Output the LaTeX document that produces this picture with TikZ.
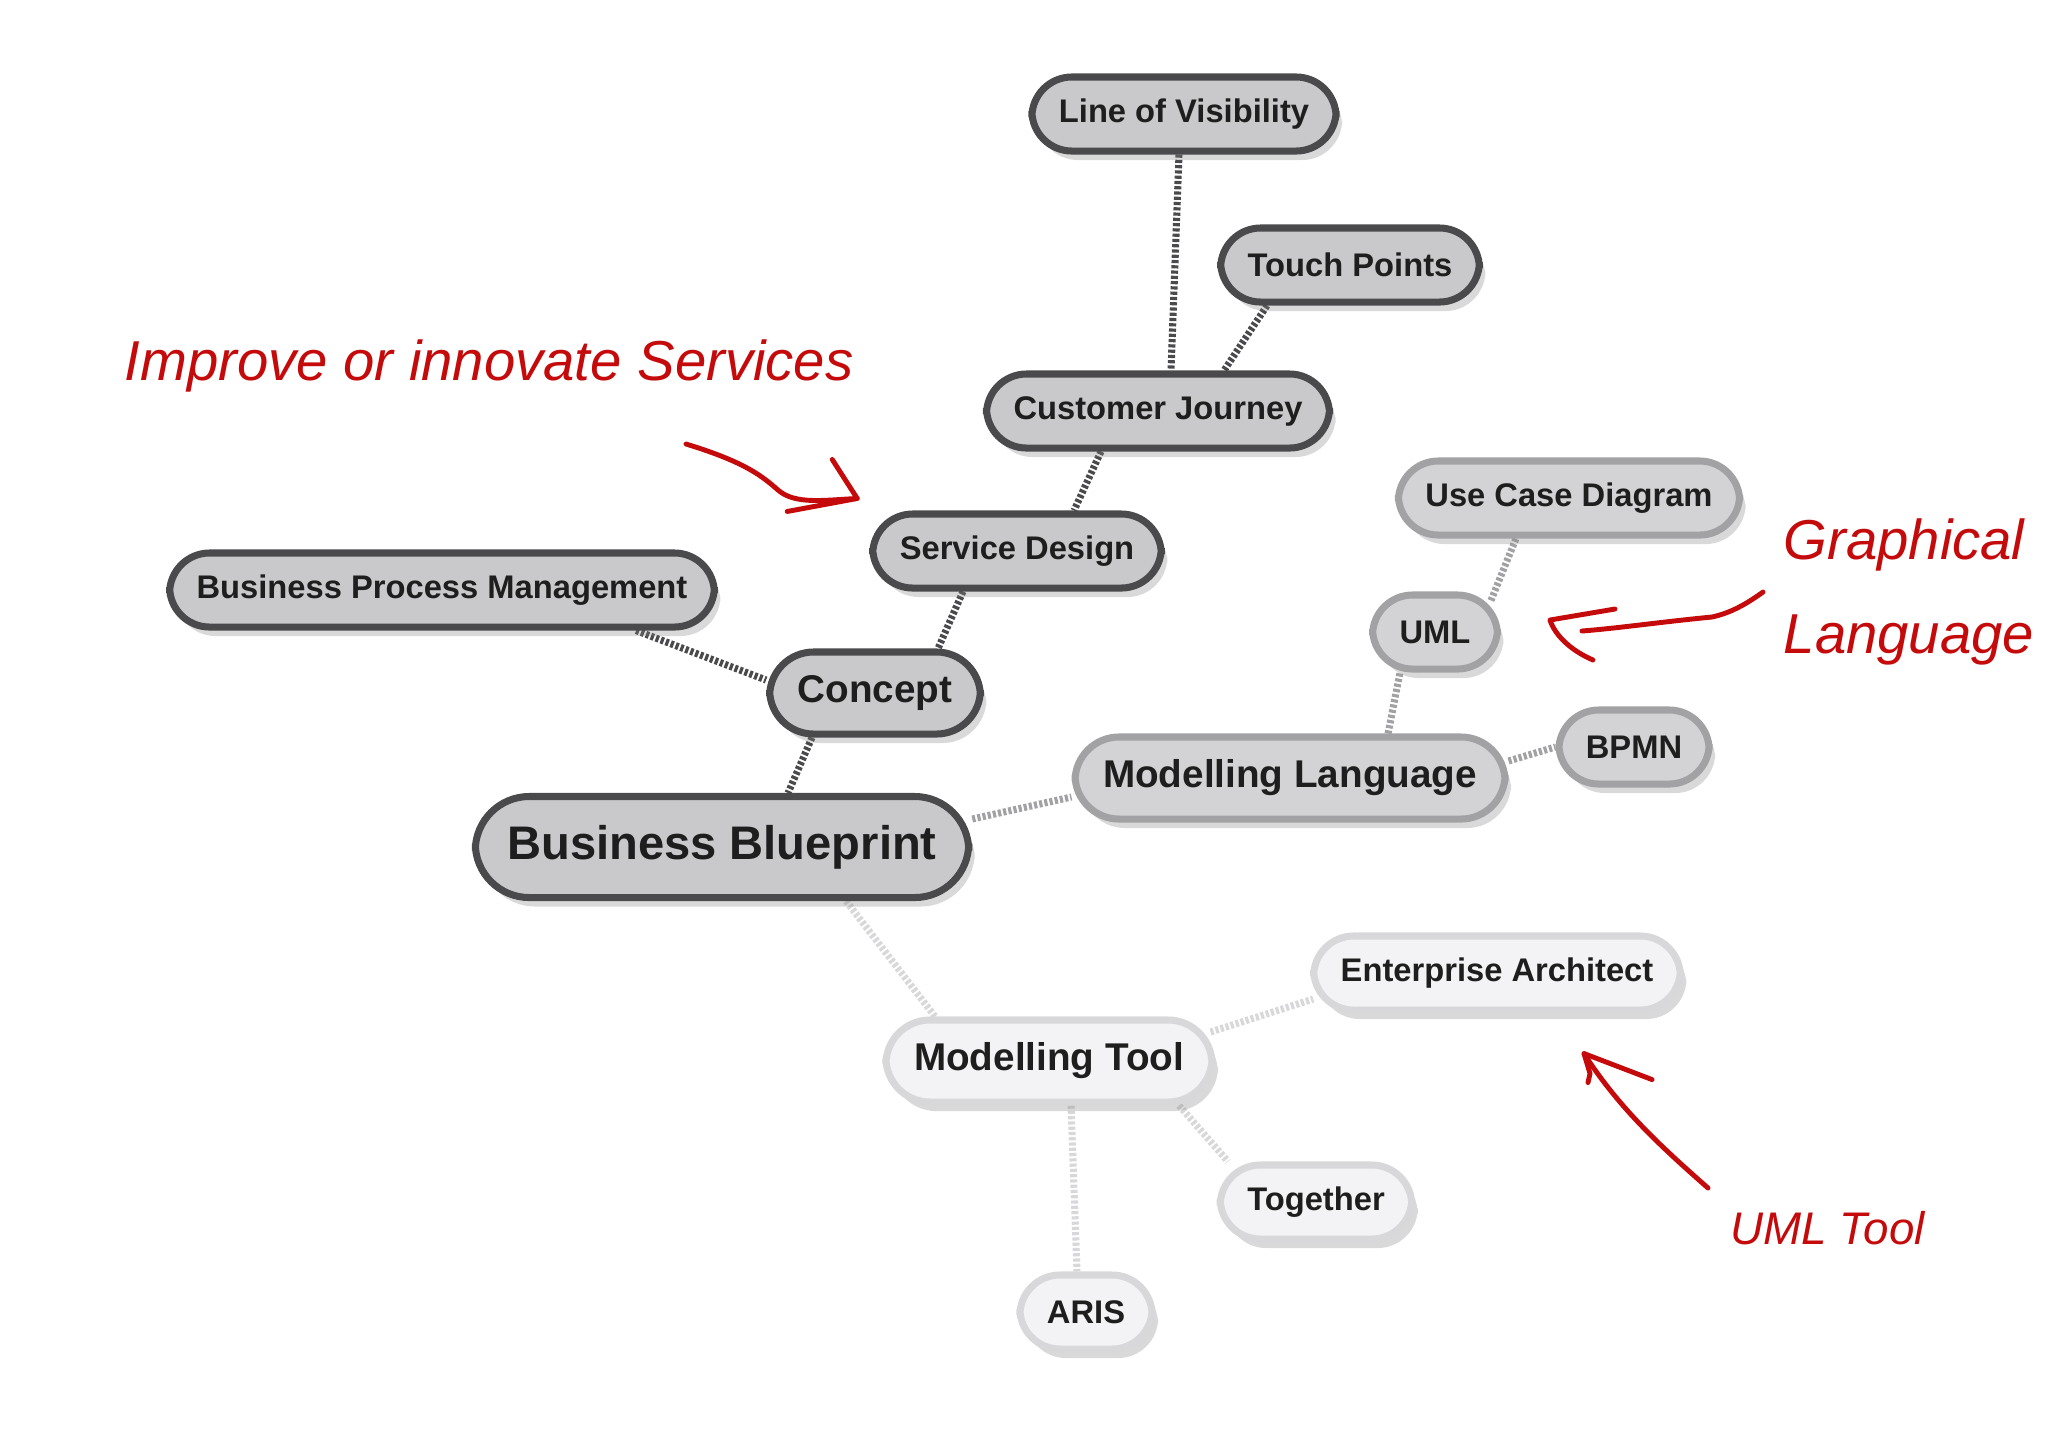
\documentclass[tikz,border=0pt]{standalone}
\usepackage{fontspec}
\setmainfont{Liberation Sans}
\newfontfamily\handfont{Liberation Sans}
\usepackage{tikz}
\usetikzlibrary{shadows,backgrounds}

\definecolor{dkline}{HTML}{4A4A4C}
\definecolor{dkfill}{HTML}{C9C9CB}
\definecolor{mdline}{HTML}{A2A2A4}
\definecolor{mdfill}{HTML}{D3D3D5}
\definecolor{ltline}{HTML}{D8D8DA}
\definecolor{ltfill}{HTML}{F3F3F5}
\definecolor{inkred}{HTML}{C40A0A}
\definecolor{txt}{HTML}{1E1E1E}

\tikzset{
  bub/.style={rectangle, rounded corners=4mm, line width=2pt, minimum height=7.4mm,
    inner xsep=2.7mm, inner ysep=0pt, text=txt, font=\bfseries\fontsize{9.3}{11}\selectfont,
    drop shadow={shadow xshift=0.6mm, shadow yshift=-0.9mm, opacity=0.3}},
  bubm/.style={bub, rounded corners=4.4mm, minimum height=8.2mm, inner xsep=2.8mm,
    font=\bfseries\fontsize{11}{13}\selectfont},
  bubl/.style={bub, rounded corners=5.4mm, minimum height=10.1mm, inner xsep=3.2mm,
    font=\bfseries\fontsize{13.4}{16}\selectfont},
  dk/.style={draw=dkline, fill=dkfill},
  md/.style={draw=mdline, fill=mdfill},
  lt/.style={draw=ltline, fill=ltfill},
  lnk/.style={line width=2pt, dash pattern=on 0.9pt off 0.6pt},
  ink/.style={draw=inkred, line width=1.4pt, line cap=round, line join=round},
  hand/.style={text=inkred, inner sep=0pt, font=\handfont\itshape\fontsize{16}{19}\selectfont}
}

\begin{document}
\begin{tikzpicture}[x=0.01cm, y=-0.01cm]
\useasboundingbox (0,0) rectangle (2048,1447);

% topics
\node[bubl, dk] (bb)   at (722,847)   {Business Blueprint};
\node[bubm, dk] (con)  at (875,693)   {Concept};
\node[bub, dk]  (bpm)  at (442,590)   {Business Process Management};
\node[bub, dk]  (sd)   at (1017,551)  {Service Design};
\node[bub, dk]  (cj)   at (1158,411)  {Customer Journey};
\node[bub, dk]  (tp)   at (1350,265)  {Touch Points};
\node[bub, dk]  (lov)  at (1184,114)  {Line of Visibility};

\node[bubm, md] (ml)   at (1290,778)  {Modelling Language};
\node[bub, md]  (uml)  at (1435,632)  {UML};
\node[bub, md]  (ucd)  at (1569,498)  {Use Case Diagram};
\node[bub, md]  (bpmn) at (1634,747)  {BPMN};

\node[bubm, lt] (mt)   at (1049,1061) {Modelling Tool};
\node[bub, lt]  (ea)   at (1497,973)  {Enterprise Architect};
\node[bub, lt]  (tog)  at (1316,1202) {Together};
\node[bub, lt]  (aris) at (1086,1312) {ARIS};

% links
\begin{scope}[on background layer]
\draw[lnk, dkline] ([xshift=-0.5mm]lov.south) -- ([xshift=1.3mm]cj.north);
\draw[lnk, dkline] ([xshift=-8.3mm]tp.south) -- ([xshift=6.6mm]cj.north);
\draw[lnk, dkline] ([xshift=-5.7mm]cj.south) -- ([xshift=5.7mm]sd.north);
\draw[lnk, dkline] ([xshift=-5.4mm]sd.south) -- ([xshift=6.3mm]con.north);
\draw[lnk, dkline] ([xshift=19.4mm]bpm.south) -- ([yshift=1.3mm]con.west);
\draw[lnk, dkline] ([xshift=-6.3mm]con.south) -- ([xshift=6.6mm]bb.north);
\draw[lnk, mdline] ([yshift=2.8mm]bb.east) -- ([yshift=-1.9mm]ml.west);
\draw[lnk, mdline] ([xshift=9.8mm]ml.north) -- ([xshift=-3.5mm]uml.south);
\draw[lnk, mdline] ([shift={(-10,9)}]uml.north east) -- ([xshift=-5.3mm]ucd.south);
\draw[lnk, mdline] ([yshift=1.7mm]ml.east) -- (bpmn.west);
\draw[lnk, ltline] ([xshift=12.4mm]bb.south) -- ([xshift=-11.4mm]mt.north);
\draw[lnk, ltline] ([shift={(-5,-29)}]mt.east) -- ([shift={(3,26)}]ea.west);
\draw[lnk, ltline] ([xshift=13mm]mt.south) -- ([xshift=-8.8mm]tog.north);
\draw[lnk, ltline] ([xshift=2.2mm]mt.south) -- ([xshift=-0.9mm]aris.north);
\end{scope}

% red notes
\node[hand] (imp) at (489,366) {Improve or innovate Services};
\coordinate (ta) at (686,444);
\coordinate (pa) at ([shift={(-12,-12)}]sd.north west);
\draw[ink] (ta) .. controls (745,462) and (762,476) .. (778,490)
  .. controls (795,505) and (825,500) .. (pa);
\draw[ink] ([shift={(-25,-39)}]pa) -- (pa) -- ([shift={(-70,13)}]pa);

\node[hand, anchor=west] (gra) at (1783,545) {Graphical};
\node[hand, anchor=west] (lan) at (1783,640) {Language};
\coordinate (tb) at (1763,592);
\coordinate (pb) at ([shift={(49,-12)}]uml.east);
\draw[ink] (tb) .. controls (1745,605) and (1730,613) .. (1712,617)
  .. controls (1660,622) and (1620,628) .. ([shift={(32,11)}]pb);
\draw[ink] ([shift={(65,-11)}]pb) -- (pb)
  .. controls ([shift={(5,15)}]pb) and ([shift={(20,30)}]pb) .. ([shift={(43,40)}]pb);

\node[hand, anchor=west, font=\handfont\itshape\fontsize{13}{16}\selectfont] (ut) at (1730,1228) {UML Tool};
\coordinate (tc) at (1708,1188);
\coordinate (pc) at ([shift={(87,40)}]ea.south);
\draw[ink] (tc) .. controls (1665,1150) and (1620,1110) .. (pc);
\draw[ink] ([shift={(68,26)}]pc) -- (pc) -- ([shift={(6,20)}]pc) -- ([shift={(4,29)}]pc);
\end{tikzpicture}
\end{document}
